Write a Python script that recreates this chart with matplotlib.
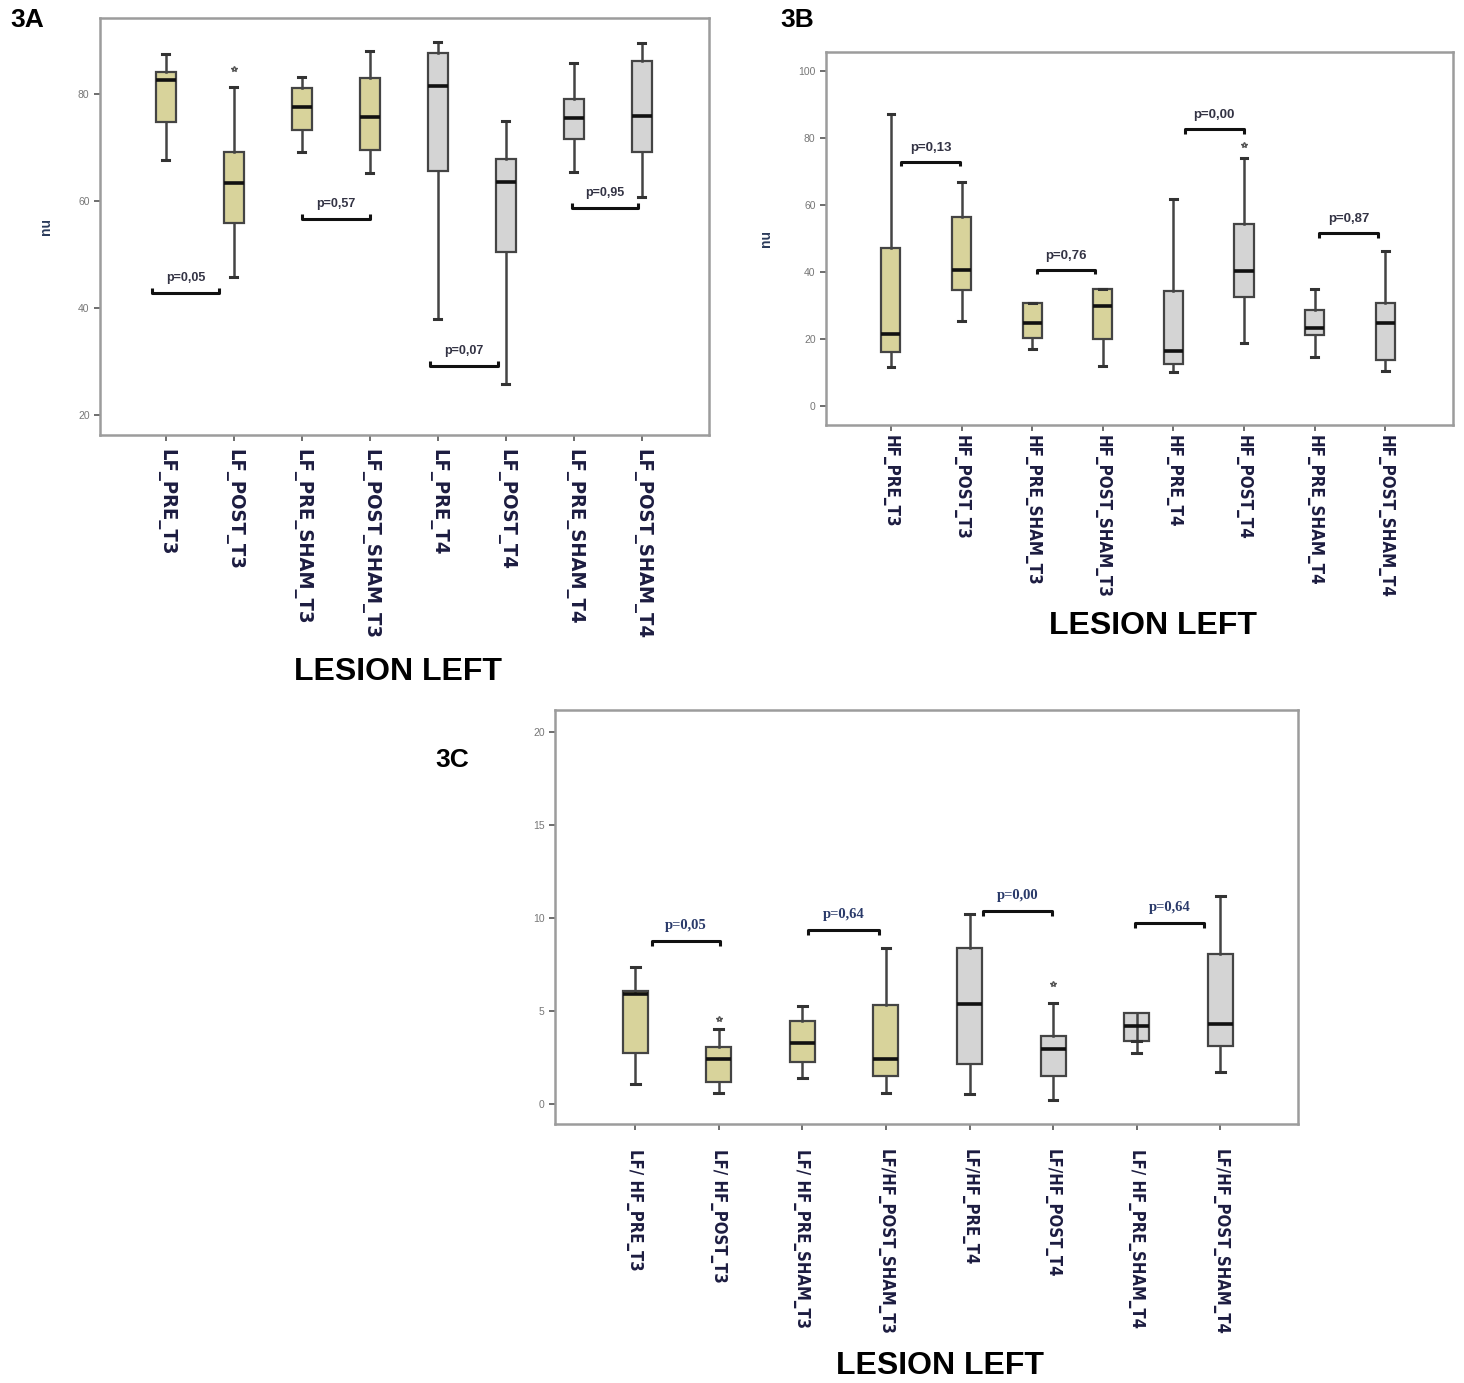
import matplotlib.pyplot as plt

# ---- data (box stats per group) ----
labels_a = ["LF_PRE_T3", "LF_POST_T3", "LF_PRE_SHAM_T3", "LF_POST_SHAM_T3",
            "LF_PRE_T4", "LF_POST_T4", "LF_PRE_SHAM_T4", "LF_POST_SHAM_T4"]
lo_a = [67.6, 45.9, 69.2, 65.2, 38.0, 25.8, 65.4, 60.7]
q1_a = [74.8, 55.9, 73.2, 69.6, 65.7, 50.4, 71.5, 69.2]
med_a = [82.7, 63.4, 77.6, 75.7, 81.4, 63.5, 75.5, 75.9]
q3_a = [84.1, 69.1, 81.2, 82.9, 87.7, 67.8, 79.1, 86.1]
hi_a = [87.5, 81.3, 83.2, 88.0, 89.7, 75.0, 85.8, 89.6]
fliers_a = [[], [84.6], [], [], [], [], [], []]
pvals_a = ["p=0,05", "p=0,57", "p=0,07", "p=0,95"]
brk_y_a = [42.8, 56.6, 29.2, 58.7]
brk_x_a = [(-0.2, 0.78), (2.0, 3.0), (3.88, 4.88), (5.97, 6.94)]

labels_b = ["HF_PRE_T3", "HF_POST_T3", "HF_PRE_SHAM_T3", "HF_POST_SHAM_T3",
            "HF_PRE_T4", "HF_POST_T4", "HF_PRE_SHAM_T4", "HF_POST_SHAM_T4"]
lo_b = [11.7, 25.5, 17.0, 12.0, 10.2, 18.9, 14.7, 10.5]
q1_b = [16.1, 34.5, 20.4, 19.9, 12.4, 32.6, 21.2, 13.7]
med_b = [21.5, 40.7, 24.9, 29.8, 16.3, 40.2, 23.3, 24.9]
q3_b = [47.1, 56.3, 30.7, 35.0, 34.2, 54.2, 28.5, 30.6]
hi_b = [87.2, 67.0, 30.7, 35.0, 61.9, 74.0, 34.8, 46.4]
fliers_b = [[], [], [], [], [], [77.8], [], []]
pvals_b = ["p=0,13", "p=0,76", "p=0,00", "p=0,87"]
brk_y_b = [72.9, 40.6, 82.6, 51.5]
brk_x_b = [(0.14, 0.98), (2.07, 2.89), (4.16, 5.0), (6.06, 6.9)]

labels_c = ["LF/ HF_PRE_T3", "LF/ HF_POST_T3", "LF/ HF_PRE_SHAM_T3", "LF/HF_POST_SHAM_T3",
            "LF/HF_PRE_T4", "LF/HF_POST_T4", "LF/ HF_PRE_SHAM_T4", "LF/HF_POST_SHAM_T4"]
lo_c = [1.07, 0.57, 1.41, 0.57, 0.54, 0.21, 2.76, 1.74]
q1_c = [2.76, 1.16, 2.27, 1.52, 2.17, 1.52, 3.40, 3.12]
med_c = [5.94, 2.40, 3.26, 2.44, 5.39, 2.97, 4.19, 4.30]
q3_c = [6.09, 3.08, 4.46, 5.32, 8.38, 3.65, 4.91, 8.09]
hi_c = [7.38, 4.03, 5.28, 8.40, 10.24, 5.41, 3.40, 11.2]
fliers_c = [[], [4.55], [], [], [], [6.43], [], []]
pvals_c = ["p=0,05", "p=0,64", "p=0,00", "p=0,64"]
brk_y_c = [8.76, 9.35, 10.4, 9.73]
brk_x_c = [(0.2, 1.02), (2.07, 2.92), (4.16, 4.99), (5.98, 6.8)]

KHAKI = "#d8d39b"
GREY = "#d4d4d4"
fills = [KHAKI] * 4 + [GREY] * 4

plt.rcParams["font.family"] = ["Liberation Sans", "DejaVu Sans"]

fig = plt.figure(figsize=(14.64, 13.83), dpi=100)


def panel(rect, xlim, ylim, yticks, labels, lo, q1, med, q3, hi, fliers,
          pvals, brk_y, brk_x, width, ylabel, up_ends, lab_size, lab_pad,
          p_style):
    ax = fig.add_axes(rect)
    stats = []
    for i in range(len(labels)):
        stats.append(dict(whislo=lo[i], q1=q1[i], med=med[i], q3=q3[i],
                          whishi=hi[i], fliers=fliers[i]))
    pos = list(range(len(labels)))
    bp = ax.bxp(stats, positions=pos, widths=width, patch_artist=True,
                boxprops=dict(edgecolor="#444444", linewidth=1.6),
                medianprops=dict(color="#111111", linewidth=2.6),
                whiskerprops=dict(color="#444444", linewidth=1.8),
                capprops=dict(color="#333333", linewidth=2.2),
                capwidths=width * 0.35,
                flierprops=dict(marker="*", markersize=4, color="#555555",
                                markeredgecolor="#555555"))
    for patch, c in zip(bp["boxes"], fills):
        patch.set_facecolor(c)
    ax.set_xlim(*xlim)
    ax.set_ylim(*ylim)
    ax.set_yticks(yticks)
    ax.set_yticklabels([str(t) for t in yticks], fontsize=7.5, color="#777777")
    ax.set_xticks(pos)
    ax.set_xticklabels(labels, rotation=-90, fontsize=lab_size, color="#1c1c40",
                       family="DejaVu Sans", fontstretch="condensed",
                       fontweight="bold", va="top", ha="center")
    ax.tick_params(axis="both", length=4, width=1.2, color="#555555")
    ax.tick_params(axis="x", pad=lab_pad)
    for s in ax.spines.values():
        s.set_color("#9c9c9c")
        s.set_linewidth(1.8)
    if ylabel:
        ax.set_ylabel(ylabel, fontsize=10, fontweight="bold", color="#2a3a5a",
                      labelpad=18)
    yr = ylim[1] - ylim[0]
    tick = 0.012 * yr
    for (x0, x1), y, txt in zip(brk_x, brk_y, pvals):
        d = tick if up_ends else -tick
        ax.plot([x0, x0, x1, x1], [y + d, y, y, y + d], color="#111111",
                lw=2.2, solid_capstyle="butt")
        ax.text((x0 + x1) / 2, y + 0.022 * yr, txt, ha="center", va="bottom",
                fontweight="bold", **p_style)
    return ax


panel([0.0683, 0.6855, 0.416, 0.3015], (-0.97, 7.99), (16.3, 94.2),
      [20, 40, 60, 80], labels_a, lo_a, q1_a, med_a, q3_a, hi_a, fliers_a,
      pvals_a, brk_y_a, brk_x_a, 0.3, "nu", True, 14.5, 6,
      dict(fontsize=9, color="#333344"))
panel([0.5642, 0.6927, 0.4283, 0.2697], (-0.92, 7.96), (-5.7, 105.7),
      [0, 20, 40, 60, 80, 100], labels_b, lo_b, q1_b, med_b, q3_b, hi_b,
      fliers_b, pvals_b, brk_y_b, brk_x_b, 0.27, "nu", False, 12.2, 3,
      dict(fontsize=9.5, color="#333344"))
panel([0.3791, 0.1873, 0.5075, 0.2993], (-0.96, 7.93), (-1.08, 21.2),
      [0, 5, 10, 15, 20], labels_c, lo_c, q1_c, med_c, q3_c, hi_c, fliers_c,
      pvals_c, brk_y_c, brk_x_c, 0.3, None, False, 12.0, 14,
      dict(fontsize=10.5, color="#2a3a6a", family="Liberation Serif"))

fig.text(27 / 1464, 1 - 20 / 1383, "3A", fontsize=19, fontweight="bold",
         ha="center", va="center")
fig.text(797 / 1464, 1 - 20 / 1383, "3B", fontsize=19, fontweight="bold",
         ha="center", va="center")
fig.text(452 / 1464, 1 - 760 / 1383, "3C", fontsize=19, fontweight="bold",
         ha="center", va="center")
for x, y in [(398, 672), (1153, 626), (940, 1366)]:
    fig.text(x / 1464, 1 - y / 1383, "LESION LEFT", fontsize=23,
             fontweight="bold", ha="center", va="center")

fig.savefig("out.png", dpi=100)
